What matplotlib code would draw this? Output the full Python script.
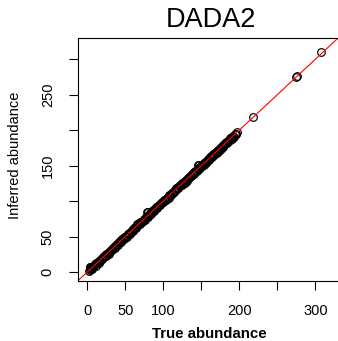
import matplotlib
matplotlib.use("Agg")
import matplotlib.pyplot as plt

plt.rcParams["font.family"] = ["Liberation Sans", "DejaVu Sans"]

# true vs. inferred abundance for each sequence variant
true_abund = [
    2, 3, 4, 5, 6, 7, 8, 9, 10, 11, 12, 13, 14, 15, 16, 17, 18, 19, 20, 21,
    22, 23, 24, 25, 26, 27, 28, 29, 30, 31, 32, 33, 34, 35, 36, 37, 38, 39, 40, 41,
    42, 43, 44, 45, 46, 47, 48, 49, 50, 51, 52, 53, 54, 55, 56, 57, 58, 59, 60, 61,
    62, 63, 64, 65, 66, 67, 68, 69, 70, 71, 72, 73, 74, 75, 76, 77, 78, 79, 80, 81,
    82, 83, 84, 85, 86, 87, 88, 89, 90, 91, 92, 93, 94, 95, 96, 97, 98, 99, 100, 101,
    102, 103, 104, 105, 106, 107, 108, 109, 110, 111, 112, 113, 114, 115, 116, 117, 118, 119, 120, 121,
    122, 123, 124, 125, 126, 127, 128, 129, 130, 131, 132, 133, 134, 135, 136, 137, 138, 139, 140, 141,
    142, 143, 144, 145, 146, 147, 148, 149, 150, 151, 152, 153, 154, 155, 156, 157, 158, 159, 160, 161,
    162, 163, 164, 165, 166, 167, 168, 169, 170, 171, 172, 173, 174, 175, 176, 177, 178, 179, 180, 181,
    182, 183, 184, 185, 186, 187, 188, 189, 190, 191, 192, 193, 194, 195, 196, 197,
    3, 4, 79, 80, 146, 147, 218, 275, 276, 308,
]
inferred_abund = [
    2, 3, 4, 5, 4, 7, 8, 9, 11, 9, 12, 13, 14, 13, 16, 16, 18, 19, 18, 21,
    22, 23, 22, 26, 26, 27, 28, 26, 30, 31, 32, 31, 34, 35, 34, 37, 38, 39, 38, 41,
    42, 43, 42, 45, 46, 48, 46, 49, 50, 51, 50, 53, 54, 55, 54, 57, 57, 59, 58, 61,
    62, 63, 62, 65, 67, 67, 68, 67, 70, 71, 70, 72, 74, 75, 74, 77, 78, 79, 78, 81,
    82, 83, 82, 85, 86, 87, 86, 89, 90, 92, 90, 93, 94, 95, 94, 97, 98, 99, 98, 101,
    102, 103, 101, 105, 106, 105, 108, 109, 108, 111, 112, 111, 114, 115, 114, 118, 118, 119, 118, 121,
    122, 123, 122, 125, 126, 127, 126, 129, 130, 129, 132, 133, 132, 135, 136, 135, 138, 140, 138, 141,
    142, 143, 142, 145, 146, 145, 148, 149, 148, 151, 152, 151, 154, 155, 154, 157, 157, 159, 158, 161,
    162, 163, 162, 165, 167, 165, 168, 169, 168, 171, 172, 171, 174, 175, 174, 177, 178, 176, 180, 181,
    182, 183, 182, 185, 186, 185, 189, 189, 188, 191, 192, 191, 194, 195, 194, 197,
    7, 7, 84, 84, 151, 151, 218, 275, 276, 310,
]

tick_vals = [0, 50, 100, 150, 200, 250, 300]
x_tick_labels = ["0", "50", "100", "", "200", "", "300"]
y_tick_labels = ["0", "50", "", "150", "", "250", ""]

fig = plt.figure(figsize=(3.38, 3.41), dpi=100)
ax = fig.add_axes([0.2299, 0.1768, 0.788, 0.7118])

ax.plot(true_abund, inferred_abund, linestyle="none", marker="o",
        markersize=5.5, markerfacecolor="none", markeredgecolor="black",
        markeredgewidth=0.85)
ax.axline((0, 0), slope=1, color="red", linewidth=0.8)

ax.set_xlim(-12.6, 337.8)
ax.set_ylim(-12.3, 330)

ax.set_xticks(tick_vals)
ax.set_xticklabels(x_tick_labels)
ax.set_yticks(tick_vals)
ax.set_yticklabels(y_tick_labels, rotation=90, va="center")
ax.tick_params(direction="out", length=6.5, width=0.8, labelsize=10.5, pad=10)

for side in ["top", "left", "bottom"]:
    ax.spines[side].set_linewidth(0.8)
ax.spines["right"].set_visible(False)

ax.set_title("DADA2", fontsize=19.5, pad=7.7)
ax.set_xlabel("True abundance", fontsize=10.8, fontweight="bold", va="baseline")
ax.xaxis.set_label_coords(0.4957, -0.2373)
ax.set_ylabel("Inferred abundance", fontsize=10.5, va="baseline")
ax.yaxis.set_label_coords(-0.2216, 0.518)

fig.savefig("out.png", dpi=100)
